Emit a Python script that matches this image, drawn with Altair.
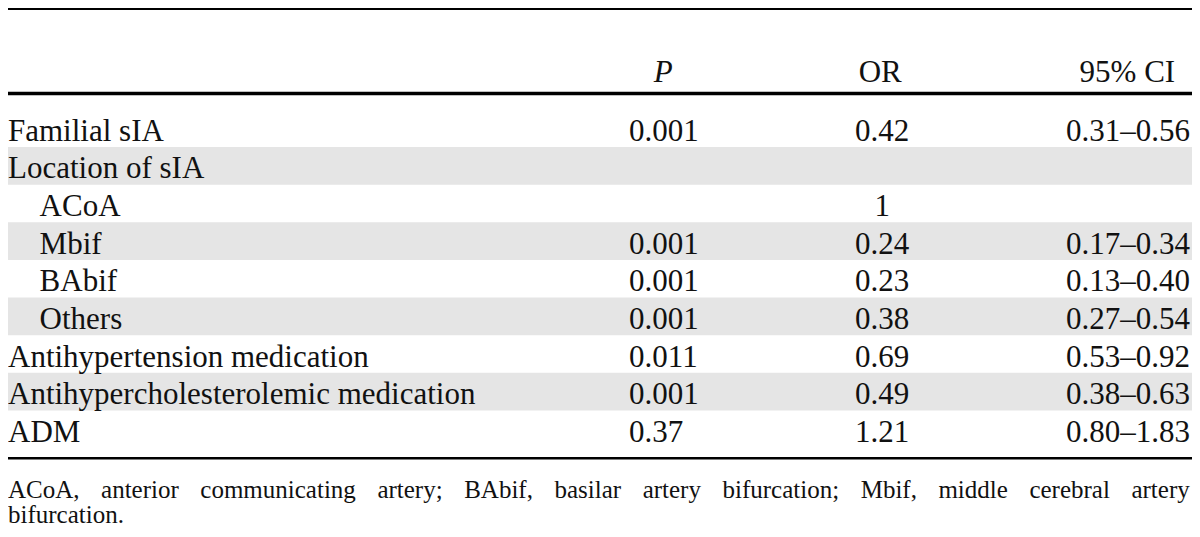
import altair as alt
import pandas as pd

# ---------------- data ----------------
labels = ["Familial sIA", "Location of sIA", "ACoA", "Mbif", "BAbif", "Others",
          "Antihypertension medication", "Antihypercholesterolemic medication", "ADM"]
indent = [0, 0, 1, 1, 1, 1, 0, 0, 0]
shaded = [0, 1, 0, 1, 0, 1, 0, 1, 0]
p_values = ["0.001", "", "", "0.001", "0.001", "0.001", "0.011", "0.001", "0.37"]
or_values = ["0.42", "", "1", "0.24", "0.23", "0.38", "0.69", "0.49", "1.21"]
ci_values = ["0.31–0.56", "", "", "0.17–0.34", "0.13–0.40", "0.27–0.54",
             "0.53–0.92", "0.38–0.63", "0.80–1.83"]
headers = ["P", "OR", "95% CI"]
footnote = ["ACoA, anterior communicating artery; BAbif, basilar artery bifurcation; "
            "Mbif, middle cerebral artery", "bifurcation."]

# ---------------- layout (reference pixel units) ----------------
REF_W, REF_H = 1200, 537
W, H = 1184, 521
SX = W / REF_W
ROW0, PITCH, BASE = 104.5, 38.78, 32.4
INDENT = 32
P_X, OR_X, CI_X = 629.5, 886, 1198
HEAD_Y = 76
HEAD_X = [664, 884, 1134.5]
RULES = [(1, 2.0), (88, 3.5), (464, 2.5)]
FOOT_Y = [505, 531]
FOOT_RIGHT = 1197.7
FONT = "Liberation Serif"
BODY_SIZE = 31
FOOT_SIZE = 25
GRAY = "#e5e5e5"

xs = alt.Scale(domain=[0, REF_W], range=[0, W], nice=False, zero=False)
ys = alt.Scale(domain=[0, REF_H], range=[0, H], nice=False, zero=False)

rows = pd.DataFrame({
    "i": range(len(labels)),
    "label": labels,
    "indent": indent,
    "shaded": shaded,
    "p": p_values,
    "or": or_values,
    "ci": ci_values,
})
rows["top"] = ROW0 + rows["i"] * PITCH
rows["bottom"] = rows["top"] + PITCH
rows["base"] = rows["top"] + BASE
rows["lx"] = rows["indent"] * INDENT
rows["px"] = P_X
rows["ox"] = OR_X
rows["cx"] = CI_X

base = alt.Chart(rows)

bands = base.transform_filter("datum.shaded == 1").mark_rect(color=GRAY).encode(
    x=alt.value(0), x2=alt.value(W),
    y=alt.Y("top:Q", scale=ys, axis=None), y2="bottom:Q")

rules_df = pd.DataFrame({"y": [r[0] for r in RULES], "w": [r[1] for r in RULES]})
rules = alt.Chart(rules_df).mark_rule(color="black").encode(
    x=alt.value(0), x2=alt.value(W),
    y=alt.Y("y:Q", scale=ys, axis=None),
    strokeWidth=alt.StrokeWidth("w:Q", scale=None, legend=None))

txt = dict(font=FONT, fontSize=BODY_SIZE, baseline="alphabetic", color="#111111")

label_layer = base.mark_text(align="left", **txt).encode(
    x=alt.X("lx:Q", scale=xs, axis=None), y=alt.Y("base:Q", scale=ys, axis=None),
    text="label:N")
p_layer = base.transform_filter("datum.p != ''").mark_text(align="left", **txt).encode(
    x=alt.X("px:Q", scale=xs, axis=None), y=alt.Y("base:Q", scale=ys, axis=None),
    text="p:N")
or_layer = base.transform_filter("datum.or != ''").mark_text(align="center", **txt).encode(
    x=alt.X("ox:Q", scale=xs, axis=None), y=alt.Y("base:Q", scale=ys, axis=None),
    text="or:N")
ci_layer = base.transform_filter("datum.ci != ''").mark_text(align="right", **txt).encode(
    x=alt.X("cx:Q", scale=xs, axis=None), y=alt.Y("base:Q", scale=ys, axis=None),
    text="ci:N")

head_df = pd.DataFrame({"text": headers, "x": HEAD_X, "y": [HEAD_Y] * 3,
                        "italic": [1, 0, 0]})
head_it = alt.Chart(head_df).transform_filter("datum.italic == 1").mark_text(
    align="center", fontStyle="italic", **txt).encode(
    x=alt.X("x:Q", scale=xs, axis=None), y=alt.Y("y:Q", scale=ys, axis=None), text="text:N")
head_rm = alt.Chart(head_df).transform_filter("datum.italic == 0").mark_text(
    align="center", **txt).encode(
    x=alt.X("x:Q", scale=xs, axis=None), y=alt.Y("y:Q", scale=ys, axis=None), text="text:N")

# --- footnote: justify first line word by word (Times-metric estimates) ---
TIMES = {" ": 250, ",": 250, ".": 250, ";": 278, "A": 722, "B": 667, "C": 667,
         "M": 889, "D": 722, "a": 444, "b": 500, "c": 444, "d": 500, "e": 444,
         "f": 333, "g": 500, "h": 500, "i": 278, "l": 278, "m": 778, "n": 500,
         "o": 500, "r": 333, "s": 389, "t": 278, "u": 500, "y": 500, "p": 500}


def text_w(s, size):
    return sum(TIMES.get(c, 500) for c in s) / 1000 * size


words1 = footnote[0].split(" ")
widths = [text_w(w, FOOT_SIZE) for w in words1]
line_w = FOOT_RIGHT * SX
gap = (line_w - sum(widths)) / (len(words1) - 1)
xpos, cur = [], 0.0
for w in widths:
    xpos.append(cur / SX)
    cur += w + gap
foot_df = pd.DataFrame({
    "text": words1 + [footnote[1]],
    "x": xpos + [0],
    "y": [FOOT_Y[0]] * len(words1) + [FOOT_Y[1]],
})
foot = alt.Chart(foot_df).mark_text(align="left", font=FONT, fontSize=FOOT_SIZE,
                                    baseline="alphabetic", color="#111111").encode(
    x=alt.X("x:Q", scale=xs, axis=None), y=alt.Y("y:Q", scale=ys, axis=None), text="text:N")

chart = alt.layer(bands, rules, label_layer, p_layer, or_layer, ci_layer,
                  head_it, head_rm, foot).properties(
    width=W, height=H, padding=0,
    autosize=alt.AutoSizeParams(type="none"),
    background="white",
).configure_view(stroke=None)

chart.save("out.html", embed_options={"renderer": "svg", "actions": False})
